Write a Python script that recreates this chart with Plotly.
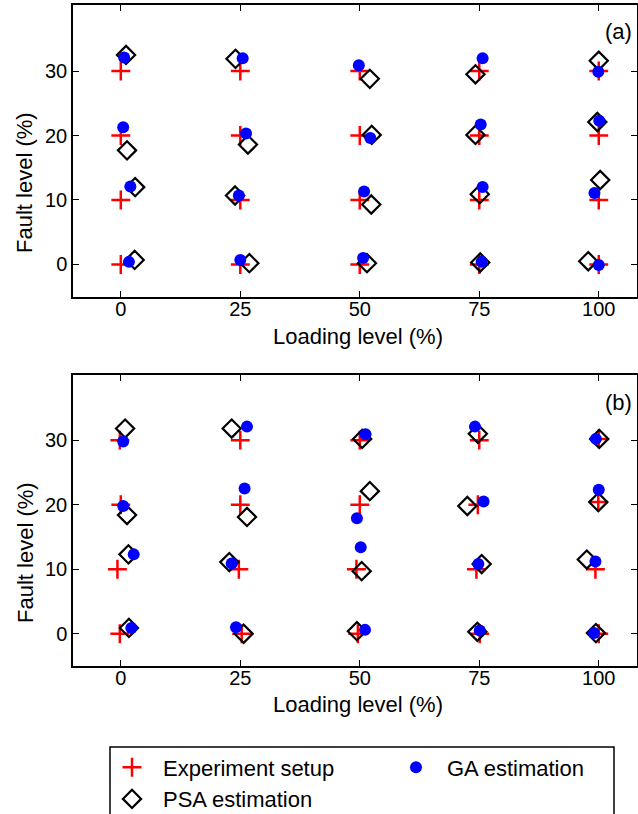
import plotly.graph_objects as go

# ---- data ----
loading_levels = [0, 25, 50, 75, 100]
fault_levels = [0, 10, 20, 30]
x_ticks = [0, 25, 50, 75, 100]
y_ticks = [0, 10, 20, 30]

# panel (a)
exp_a_x = [0, 0, 0, 0, 25, 25, 25, 25, 50, 50, 50, 50, 75, 75, 75, 75, 100, 100, 100, 100]
exp_a_y = [0, 10, 20, 30, 0, 10, 20, 30, 0, 10, 20, 30, 0, 10, 20, 30, 0, 10, 20, 30]
ga_a_x = [1.7, 2.0, 0.5, 0.7, 25.0, 24.7, 26.2, 25.5, 50.7, 50.9, 52.2, 49.8, 75.5, 75.7, 75.3, 75.7, 100.0, 99.1, 100.1, 99.9]
ga_a_y = [0.4, 12.1, 21.3, 32.1, 0.7, 10.7, 20.3, 32.0, 1.0, 11.3, 19.6, 30.9, 0.4, 12.0, 21.7, 32.0, -0.1, 11.1, 22.3, 29.9]
psa_a_x = [2.9, 3.0, 1.3, 1.1, 26.9, 23.9, 26.6, 24.0, 51.5, 52.4, 52.5, 52.1, 75.2, 75.1, 74.2, 74.2, 97.8, 100.3, 99.7, 100.0]
psa_a_y = [0.7, 12.0, 17.7, 32.5, 0.2, 10.7, 18.6, 31.9, 0.2, 9.3, 20.1, 28.8, 0.3, 10.9, 20.1, 29.5, 0.5, 13.1, 22.1, 31.6]

# panel (b)
exp_b_x = [-0.2, -0.7, 0, -0.2, 25.3, 24.7, 25, 25, 49.6, 49.3, 50, 50, 75.1, 74.4, 74.7, 75, 100, 99.3, 99.9, 100]
exp_b_y = [0, 10, 20, 30, 0, 10, 20, 30, 0, 10, 20, 30, 0, 10, 20, 30, 0, 10, 20.4, 30.2]
ga_b_x = [2.2, 2.7, 0.5, 0.5, 24.1, 23.2, 25.9, 26.4, 51.1, 50.2, 49.4, 51.2, 75.1, 74.8, 75.9, 74.1, 99.0, 99.3, 100.0, 99.4]
ga_b_y = [0.9, 12.3, 19.8, 29.8, 1.0, 10.9, 22.5, 32.1, 0.6, 13.4, 17.9, 30.9, 0.5, 10.8, 20.5, 32.1, 0.1, 11.2, 22.3, 30.2]
psa_b_x = [1.7, 1.6, 1.3, 0.9, 25.7, 22.7, 26.4, 23.2, 49.4, 50.4, 52.1, 50.5, 74.6, 75.5, 72.5, 74.7, 99.4, 97.5, 99.9, 100.1]
psa_b_y = [0.9, 12.3, 18.4, 31.8, 0.0, 11.1, 18.1, 31.8, 0.4, 9.7, 22.1, 30.2, 0.3, 10.8, 19.8, 31.0, 0.1, 11.5, 20.4, 30.2]

series_names = ["Experiment setup", "PSA estimation", "GA estimation"]

# ---- styling ----
FONT = "Liberation Sans, Arial, sans-serif"
W, H = 638, 814
L, R, T, B = 73, 1, 5, 148
plot_w = W - L - R
plot_h = H - T - B


def px_to_paper_x(px):
    return (px - L) / plot_w


def px_to_paper_y(py):
    return (H - B - py) / plot_h


exp_style = dict(mode="markers", marker=dict(symbol="cross-thin", size=13.5, color="#ff0000",
                                             line=dict(color="#ff0000", width=2.5)))
psa_style = dict(mode="markers", marker=dict(symbol="diamond-open", size=14, color="#000000",
                                             line=dict(color="#000000", width=2.2)))
ga_style = dict(mode="markers", marker=dict(symbol="circle", size=12, color="#0000ff",
                                            line=dict(width=0)))

fig = go.Figure()

# panel (a) -> xaxis/yaxis ; panel (b) -> xaxis2/yaxis2
fig.add_trace(go.Scatter(x=exp_a_x, y=exp_a_y, name=series_names[0], legend="legend",
                         xaxis="x", yaxis="y", **exp_style))
fig.add_trace(go.Scatter(x=psa_a_x, y=psa_a_y, name=series_names[1], legend="legend",
                         xaxis="x", yaxis="y", **psa_style))
fig.add_trace(go.Scatter(x=ga_a_x, y=ga_a_y, name=series_names[2], legend="legend2",
                         xaxis="x", yaxis="y", **ga_style))
fig.add_trace(go.Scatter(x=exp_b_x, y=exp_b_y, name=series_names[0], showlegend=False,
                         xaxis="x2", yaxis="y2", **exp_style))
fig.add_trace(go.Scatter(x=psa_b_x, y=psa_b_y, name=series_names[1], showlegend=False,
                         xaxis="x2", yaxis="y2", **psa_style))
fig.add_trace(go.Scatter(x=ga_b_x, y=ga_b_y, name=series_names[2], showlegend=False,
                         xaxis="x2", yaxis="y2", **ga_style))

axis_common = dict(showgrid=False, zeroline=False, showline=True, linecolor="#000000",
                   linewidth=1.5, mirror="ticks", ticks="inside", ticklen=6, tickwidth=1,
                   tickcolor="#000000", tickfont=dict(family=FONT, size=20, color="#000000"))

top_dom = [px_to_paper_y(297), 1.0]
bot_dom = [0.0, px_to_paper_y(375)]

fig.update_layout(
    width=W, height=H,
    margin=dict(l=L, r=R, t=T, b=B, autoexpand=False),
    paper_bgcolor="white", plot_bgcolor="white",
    font=dict(family=FONT, size=20, color="#000000"),
    xaxis=dict(range=[-10, 108], tickvals=x_ticks, ticktext=[str(v) for v in x_ticks],
               domain=[0, 1], anchor="y", ticklabelstandoff=-7, **axis_common),
    yaxis=dict(range=[-5.05, 40.25], tickvals=y_ticks, ticktext=[str(v) for v in y_ticks],
               domain=top_dom, anchor="x", **axis_common),
    xaxis2=dict(range=[-10, 108], tickvals=x_ticks, ticktext=[str(v) for v in x_ticks],
                domain=[0, 1], anchor="y2", ticklabelstandoff=-7, **axis_common),
    yaxis2=dict(range=[-5.0, 40.1], tickvals=y_ticks, ticktext=[str(v) for v in y_ticks],
                domain=bot_dom, anchor="x2", **axis_common),
    legend=dict(x=px_to_paper_x(101), y=px_to_paper_y(746.5), xanchor="left", yanchor="top",
                orientation="v", bgcolor="rgba(0,0,0,0)", borderwidth=0, itemwidth=52,
                font=dict(family=FONT, size=22, color="#000000")),
    legend2=dict(x=px_to_paper_x(385), y=px_to_paper_y(746.5), xanchor="left", yanchor="top",
                 orientation="v", bgcolor="rgba(0,0,0,0)", borderwidth=0, itemwidth=52,
                 font=dict(family=FONT, size=22, color="#000000")),
    showlegend=True,
)

# legend frame
fig.add_shape(type="rect", xref="paper", yref="paper",
              x0=px_to_paper_x(110), x1=px_to_paper_x(614),
              y0=px_to_paper_y(747), y1=px_to_paper_y(840),
              line=dict(color="#000000", width=1.5), fillcolor="rgba(0,0,0,0)")

title_font = dict(family=FONT, size=22, color="#000000")
annotations = [
    dict(text="Loading level (%)", x=px_to_paper_x(358), y=px_to_paper_y(336)),
    dict(text="Loading level (%)", x=px_to_paper_x(358), y=px_to_paper_y(705)),
    dict(text="Fault level (%)", x=px_to_paper_x(25), y=px_to_paper_y(183), textangle=-90),
    dict(text="Fault level (%)", x=px_to_paper_x(25), y=px_to_paper_y(553), textangle=-90),
    dict(text="(a)", x=px_to_paper_x(618), y=px_to_paper_y(32)),
    dict(text="(b)", x=px_to_paper_x(618), y=px_to_paper_y(402)),
]
for a in annotations:
    fig.add_annotation(xref="paper", yref="paper", showarrow=False, xanchor="center",
                       yanchor="middle", font=title_font, **a)

fig.write_html(
    "out.html",
    config={"displayModeBar": False},
    post_script="document.body.style.margin='0';document.body.style.overflow='hidden';",
)
